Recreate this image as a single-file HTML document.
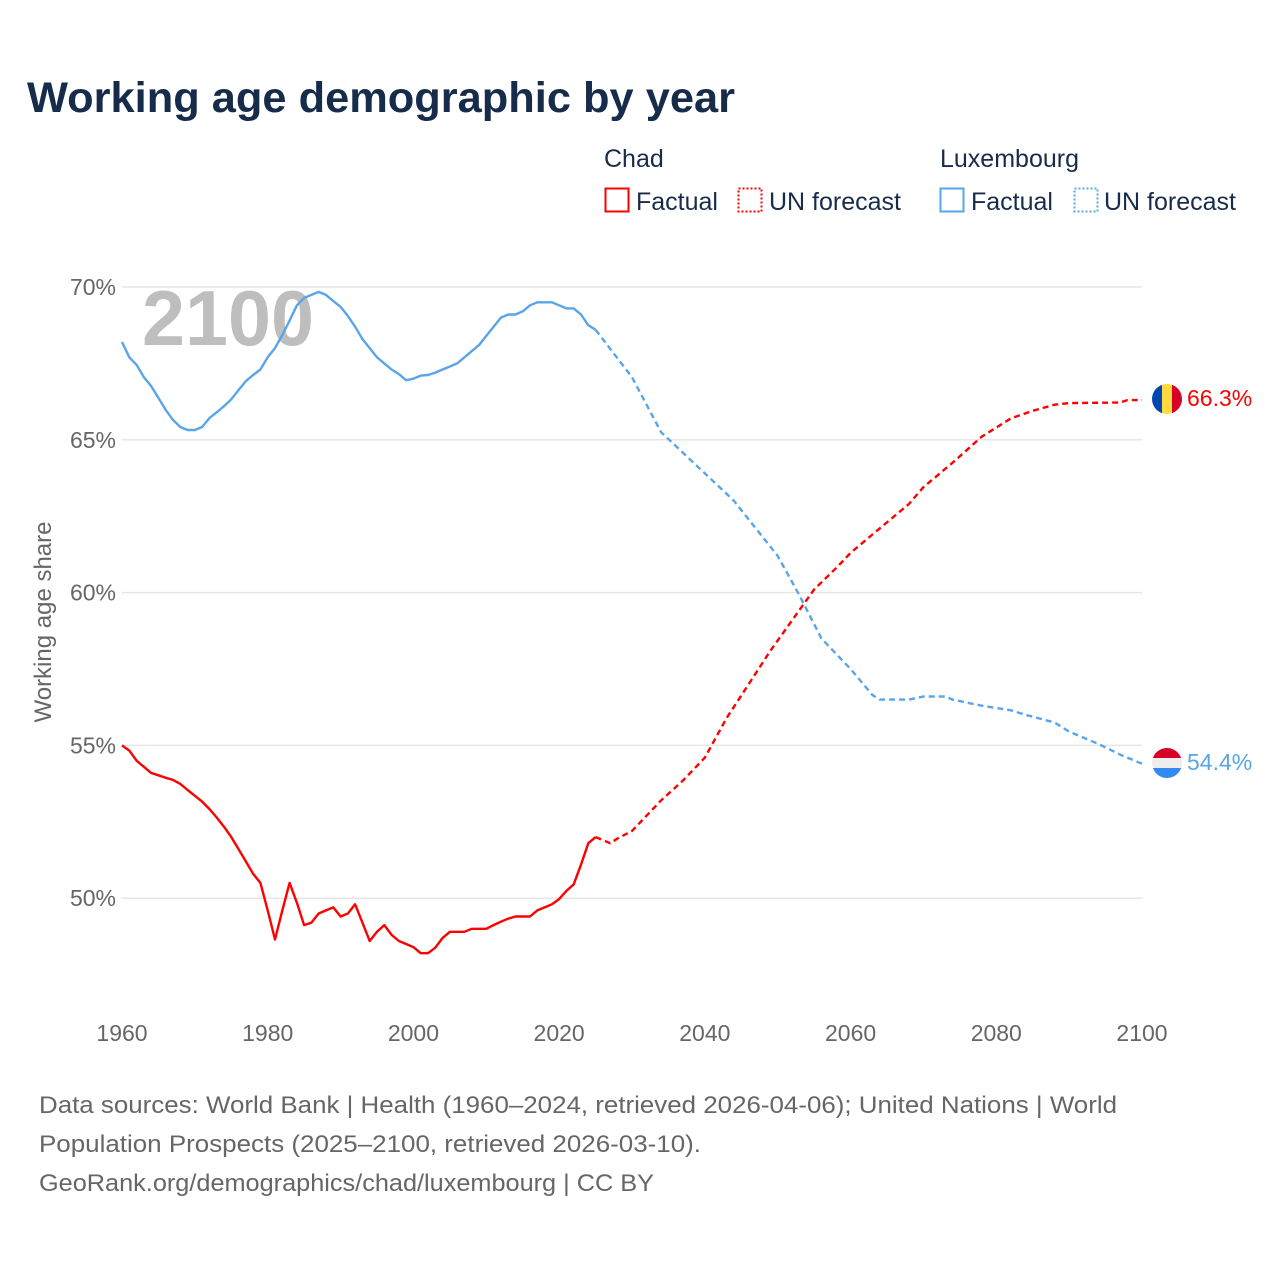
<!DOCTYPE html>
<html><head><meta charset="utf-8"><style>
body{margin:0;background:#fff;font-family:"Liberation Sans",sans-serif;}
svg text{font-family:"Liberation Sans",sans-serif;}
</style></head><body>
<svg id="chart" width="1280" height="1280" viewBox="0 0 1280 1280" xmlns="http://www.w3.org/2000/svg">
<text x="27" y="112" font-size="43" font-weight="bold" fill="#172c4b" textLength="708" lengthAdjust="spacingAndGlyphs">Working age demographic by year</text>
<g font-size="25" fill="#172c4b">
<text x="604" y="167">Chad</text>
<rect x="605.5" y="188.5" width="23" height="23" fill="none" stroke="#ff0000" stroke-width="2"/>
<text x="636" y="210">Factual</text>
<rect x="738.5" y="188.5" width="23" height="23" fill="none" stroke="#ff0000" stroke-width="2" stroke-dasharray="2,2"/>
<text x="769" y="210">UN forecast</text>
<text x="940" y="167">Luxembourg</text>
<rect x="940.5" y="188.5" width="23" height="23" fill="none" stroke="#5aa5e8" stroke-width="2"/>
<text x="971" y="210">Factual</text>
<rect x="1074.5" y="188.5" width="23" height="23" fill="none" stroke="#5aa5e8" stroke-width="2" stroke-dasharray="2,2"/>
<text x="1104" y="210">UN forecast</text>
</g>
<g id="grid"></g>
<g id="yticks" font-size="23" fill="#666" text-anchor="end"></g>
<g id="xticks" font-size="23" fill="#666" text-anchor="middle"></g>
<text transform="translate(51,622) rotate(-90)" font-size="24" fill="#666" text-anchor="middle">Working age share</text>
<text x="142" y="345" font-size="78" font-weight="bold" fill="#bbb" opacity="0.95" textLength="172" lengthAdjust="spacingAndGlyphs">2100</text>
<g id="series"></g>
<g>
<clipPath id="c1"><circle cx="1167" cy="399" r="15"/></clipPath>
<g clip-path="url(#c1)"><rect x="1152" y="384" width="10" height="30" fill="#0047b3"/><rect x="1162" y="384" width="10" height="30" fill="#ffd940"/><rect x="1172" y="384" width="10" height="30" fill="#d80027"/></g>
<text x="1187" y="406" font-size="23" fill="#ff0000">66.3%</text>
</g>
<g>
<clipPath id="c2"><circle cx="1167" cy="763" r="15"/></clipPath>
<g clip-path="url(#c2)"><rect x="1152" y="748" width="30" height="10" fill="#d80027"/><rect x="1152" y="758" width="30" height="10" fill="#eee"/><rect x="1152" y="768" width="30" height="10" fill="#338af3"/></g>
<text x="1187" y="770" font-size="23" fill="#5aa5e8">54.4%</text>
</g>
<g font-size="24" fill="#666">
<text x="39" y="1113" textLength="1078" lengthAdjust="spacingAndGlyphs">Data sources: World Bank | Health (1960–2024, retrieved 2026-04-06); United Nations | World</text>
<text x="39" y="1152" textLength="662" lengthAdjust="spacingAndGlyphs">Population Prospects (2025–2100, retrieved 2026-03-10).</text>
<text x="39" y="1191" textLength="615" lengthAdjust="spacingAndGlyphs">GeoRank.org/demographics/chad/luxembourg | CC BY</text>
</g>
</svg>
<script>
const yTicks=[50,55,60,65,70];
const xTicks=[1960,1980,2000,2020,2040,2060,2080,2100];
const chadFactYears=[];for(let y=1960;y<=2025;y++)chadFactYears.push(y);
const chadFact=[55.0,54.83,54.5,54.3,54.1,54.02,53.94,53.87,53.74,53.54,53.35,53.16,52.92,52.64,52.34,52.0,51.6,51.2,50.8,50.5,49.6,48.65,49.6,50.5,49.85,49.12,49.2,49.5,49.6,49.7,49.4,49.5,49.8,49.2,48.6,48.9,49.12,48.8,48.6,48.5,48.4,48.2,48.2,48.38,48.7,48.9,48.9,48.9,49.0,49.0,49.0,49.12,49.23,49.33,49.4,49.4,49.4,49.6,49.7,49.8,49.97,50.24,50.45,51.1,51.8,52.0];
const chadFcYears=[2025,2026,2027,2028,2030,2034,2037,2040,2043,2046,2049,2052,2055,2058,2060,2064,2068,2070,2074,2078,2082,2085,2088,2090,2097,2098,2100];
const chadFc=[52.0,51.9,51.8,51.95,52.2,53.2,53.85,54.6,55.9,57.0,58.1,59.1,60.1,60.8,61.3,62.1,62.9,63.45,64.25,65.1,65.7,65.95,66.15,66.2,66.22,66.3,66.3];
const luxFactYears=chadFactYears;
const luxFact=[68.2,67.7,67.45,67.05,66.76,66.37,65.98,65.65,65.42,65.32,65.32,65.42,65.71,65.9,66.1,66.33,66.63,66.92,67.12,67.3,67.7,68.0,68.43,68.9,69.4,69.64,69.74,69.84,69.74,69.54,69.35,69.05,68.7,68.3,68.0,67.7,67.5,67.3,67.15,66.95,67.0,67.1,67.12,67.2,67.3,67.4,67.5,67.7,67.9,68.1,68.4,68.7,69.0,69.1,69.1,69.2,69.4,69.5,69.5,69.5,69.4,69.3,69.3,69.1,68.75,68.6];
const luxFcYears=[2025,2030,2034,2040,2044,2050,2053,2056,2060,2063,2064,2068,2070,2073,2074,2078,2082,2084,2088,2090,2094,2097,2099,2100];
const luxFc=[68.6,67.05,65.25,63.9,63.0,61.2,59.9,58.5,57.5,56.65,56.5,56.5,56.6,56.6,56.5,56.3,56.15,56.0,55.75,55.45,55.05,54.7,54.5,54.4];
const X=y=>122+(y-1960)*(1020/140);
const Y=v=>287+(70-v)*30.56;
const NS='http://www.w3.org/2000/svg';
const grid=document.getElementById('grid'),yt=document.getElementById('yticks'),xt=document.getElementById('xticks'),ser=document.getElementById('series');
yTicks.forEach(t=>{const l=document.createElementNS(NS,'line');


l.setAttribute('x1',122);l.setAttribute('x2',1142);l.setAttribute('y1',Y(t));l.setAttribute('y2',Y(t));l.setAttribute('stroke','#e6e6e6');l.setAttribute('stroke-width',1.5);grid.appendChild(l);
const tx=document.createElementNS(NS,'text');


tx.setAttribute('x',116);tx.setAttribute('y',Y(t)+8);tx.textContent=t+'%';yt.appendChild(tx);});
xTicks.forEach(t=>{const tx=document.createElementNS(NS,'text');


tx.setAttribute('x',X(t));tx.setAttribute('y',1041);tx.textContent=t;xt.appendChild(tx);});
function line(ys,vs,color,dash,name){const p=document.createElementNS(NS,'path');


p.setAttribute('d',ys.map((y,i)=>(i?'L':'M')+X(y).toFixed(1)+','+Y(vs[i]).toFixed(1)).join(''));
p.setAttribute('fill','none');p.setAttribute('stroke',color);p.setAttribute('stroke-width',2.4);p.setAttribute('stroke-linejoin','round');
if(dash)p.setAttribute('stroke-dasharray','6,4');ser.appendChild(p);}
line(luxFactYears,luxFact,'#5aa5e8',false,'lux-factual-line');
line(luxFcYears,luxFc,'#5aa5e8',true,'lux-forecast-line');
line(chadFactYears,chadFact,'#ff0000',false,'chad-factual-line');
line(chadFcYears,chadFc,'#ff0000',true,'chad-forecast-line');
</script>
</body></html>
